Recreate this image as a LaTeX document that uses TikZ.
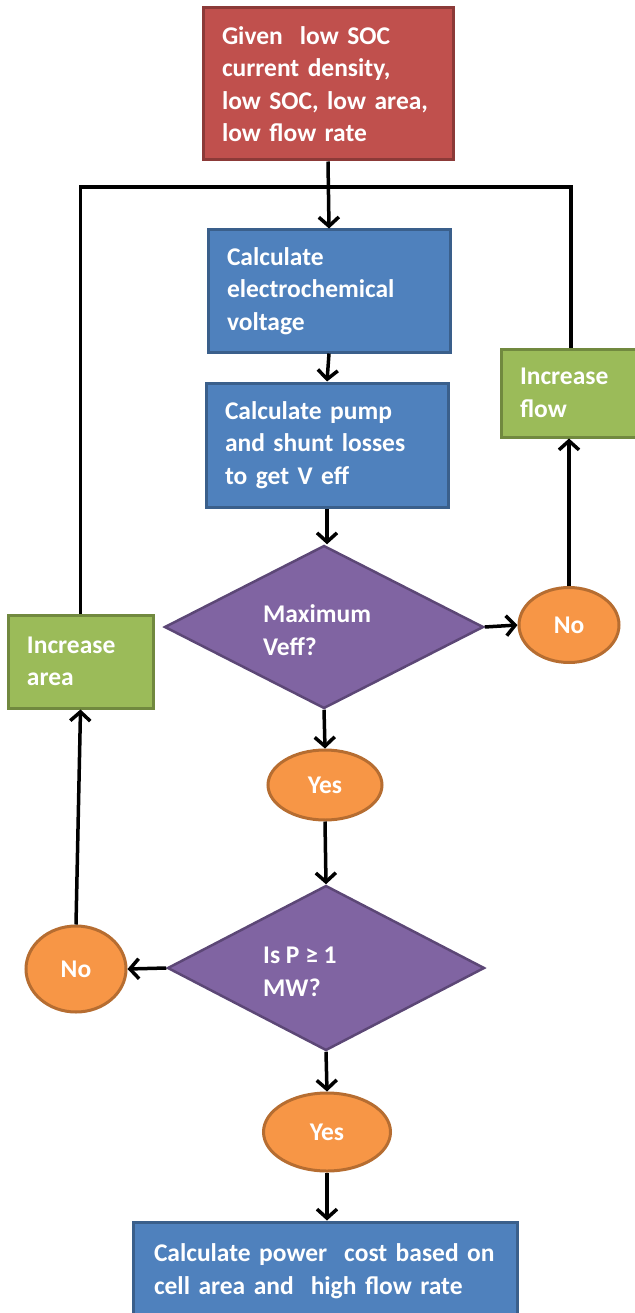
\documentclass[tikz,border=0pt]{standalone}
\usepackage{fontspec}
\setmainfont{Carlito}
\usetikzlibrary{shapes.geometric,arrows.meta}
\definecolor{redf}{HTML}{C0504D}
\definecolor{redd}{HTML}{8C3A38}
\definecolor{bluef}{HTML}{4F81BD}
\definecolor{blued}{HTML}{3A5F8B}
\definecolor{greenf}{HTML}{9BBB59}
\definecolor{greend}{HTML}{71893F}
\definecolor{purf}{HTML}{8064A2}
\definecolor{purd}{HTML}{5C4776}
\definecolor{orf}{HTML}{F79646}
\definecolor{ord}{HTML}{B66D31}
\begin{document}
\begin{tikzpicture}[x=1pt,y=-1pt,
  every node/.style={font=\fontsize{25.5}{32.5}\selectfont\bfseries, text=white},
  boxbase/.style={rectangle, line width=3pt, inner xsep=19pt, inner ysep=0pt, align=left},
  redbox/.style={boxbase, fill=redf, draw=redd},
  bluebox/.style={boxbase, fill=bluef, draw=blued},
  greenbox/.style={boxbase, fill=greenf, draw=greend},
  decision/.style={diamond, fill=purf, draw=purd, line width=2.5pt, inner sep=0pt},
  answer/.style={ellipse, fill=orf, draw=ord, line width=3pt, inner sep=0pt},
  label/.style={align=left, inner sep=0pt},
  link/.style={line width=3.5pt, black},
  flow/.style={link, -{Straight Barb[length=9pt,width=20pt]}}
]
\useasboundingbox (0,0) rectangle (634,1313);

\node[redbox, minimum width=250pt, minimum height=152pt, text width=212pt] (given) at (328,84)
  {Given\ \ low SOC\\current density,\\low SOC, low area,\\low flow rate};
\node[bluebox, minimum width=242pt, minimum height=122pt, text width=204pt] (calcv) at (329,291)
  {Calculate\\electrochemical\\voltage};
\node[bluebox, minimum width=242pt, minimum height=124pt, text width=204pt] (calcp) at (327,445)
  {Calculate pump\\and shunt losses\\to get V eff};
\node[decision, minimum width=319pt, minimum height=163pt] (maxv) at (324,627) {};
\node[label, anchor=west] (maxvt) at (263,630) {Maximum\\Veff?};
\node[answer, minimum width=100pt, minimum height=75pt] (no1) at (569,625) {No};
\node[greenbox, minimum width=140pt, minimum height=88pt, text width=102pt] (incf) at (571,393)
  {Increase\\flow};
\node[greenbox, minimum width=145pt, minimum height=93pt, text width=107pt] (inca) at (80.5,661.5)
  {Increase\\area};
\node[answer, minimum width=114pt, minimum height=70pt] (yes1) at (325,785) {Yes};
\node[decision, minimum width=317pt, minimum height=165pt] (pmw) at (326,968) {};
\node[label, anchor=west] (pmwt) at (263,972) {Is P ≥ 1\\MW?};
\node[answer, minimum width=100pt, minimum height=86pt] (no2) at (76,969) {No};
\node[answer, minimum width=127pt, minimum height=78pt] (yes2) at (327,1132) {Yes};
\node[bluebox, inner xsep=21pt, minimum width=384pt, minimum height=98pt, text width=342pt] (cost) at (325,1271)
  {Calculate power\ \ cost based on\\cell area and\ \ high flow rate};

\coordinate (join) at (328,187);
\draw[flow] (given.south) -- (calcv.north);
\draw[link] (inca.north) |- (join);
\draw[link] (incf.north) |- (join);
\draw[flow] (calcv.south) -- (calcp.north);
\draw[flow] (calcp.south) -- (calcp.south |- maxv.north);
\draw[flow] (maxv.east) -- (no1.west);
\draw[flow] (no1.north) -- (no1.north |- incf.south);
\draw[flow] (maxv.south) -- (yes1.north);
\draw[flow] (yes1.south) -- (pmw.north);
\draw[flow] (pmw.west) -- (no2.east);
\draw[flow] (no2.north) -- (inca.south);
\draw[flow] (pmw.south) -- (yes2.north);
\draw[flow] (yes2.south) -- (yes2.south |- cost.north);
\end{tikzpicture}
\end{document}
